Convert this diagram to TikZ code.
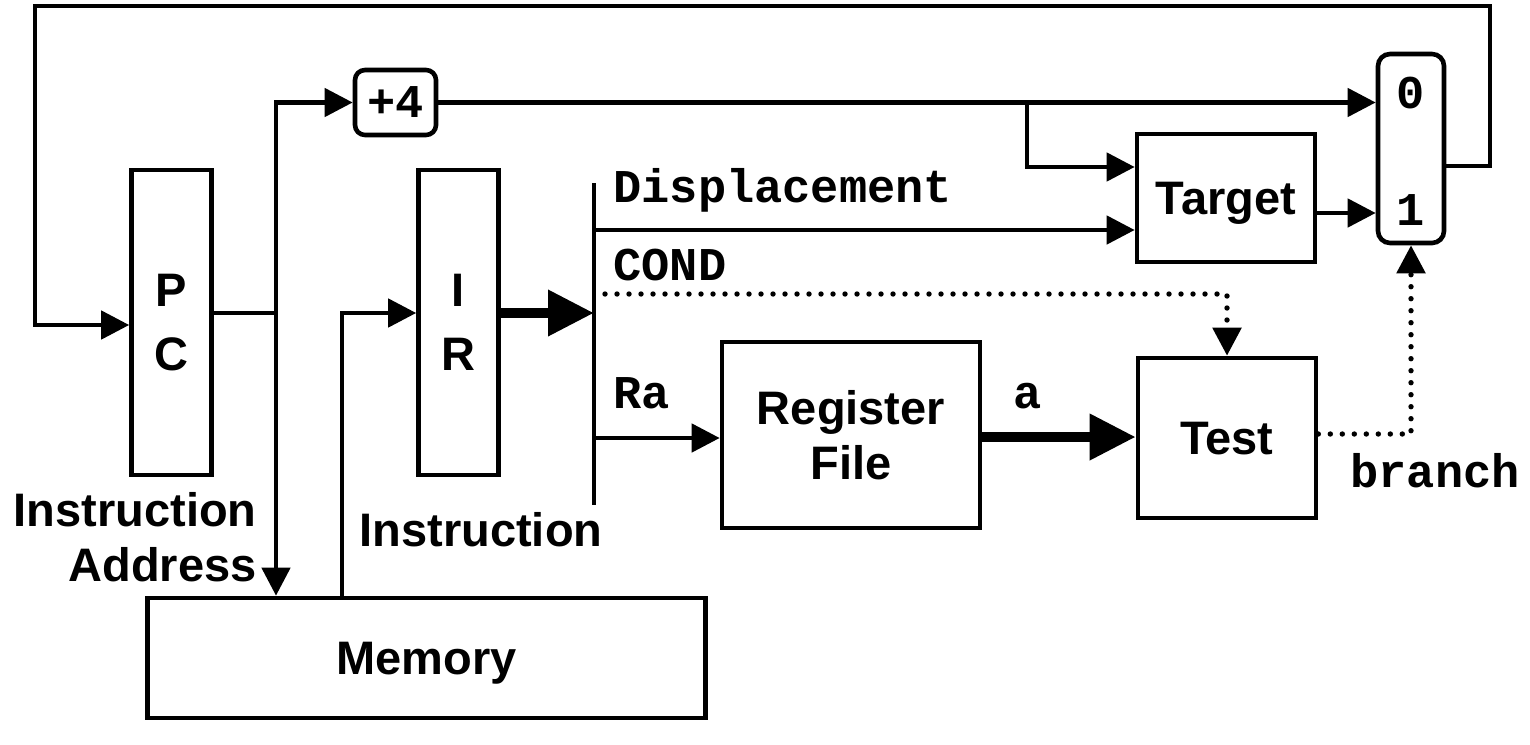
\documentclass[tikz,border=0pt]{standalone}
\usepackage{fontspec}
\setmainfont{Liberation Sans}
\setmonofont{Liberation Mono}
\usetikzlibrary{arrows.meta}

\begin{document}
\begin{tikzpicture}[x=0.5pt,y=-0.5pt,>={Triangle[length=14pt,width=14pt]},
  wire/.style={line width=2.3pt},
  bus/.style={line width=5pt,-{Triangle[length=23pt,width=22pt]}},
  dots/.style={line width=2.7pt,line cap=round,dash pattern=on 0pt off 6pt},
  box/.style={draw,line width=2.3pt,inner sep=0pt,align=center,text depth=0pt,font=\fontsize{23.5}{27.5}\selectfont\bfseries},
  lbl/.style={inner sep=0pt,font=\fontsize{23.5}{27.5}\selectfont\bfseries},
  code/.style={inner sep=0pt,font=\fontsize{23.5}{27.5}\selectfont\ttfamily\bfseries}]
\useasboundingbox (0,0) rectangle (1530,744);

\node[box,minimum width=40pt,minimum height=152.5pt] (pc) at (171.5,322.5) {P\\[4.5pt]C};
\node[box,minimum width=40pt,minimum height=152.5pt] (ir) at (458.5,322.5) {I\\[4.5pt]R};
\node[box,minimum width=279pt,minimum height=60pt] (mem) at (426.5,658) {Memory};
\node[box,code,rounded corners=5pt,minimum width=40.5pt,minimum height=32.5pt] (plusfour) at (395.5,102.5) {+4};
\node[box,minimum width=129pt,minimum height=93pt] (regfile) at (851,435) {Register\\File};
\node[box,minimum width=89pt,minimum height=64pt] (target) at (1226,198) {Target};
\node[box,minimum width=89pt,minimum height=80pt] (test) at (1227,438) {Test};
\node[box,rounded corners=6pt,minimum width=33pt,minimum height=94.5pt] (mux) at (1411,148.5) {};
\node[code] (zero) at (1411,93) {0};
\node[code] (one) at (1411,210) {1};

\node[lbl,align=right,anchor=east] (iaddr) at (257,537) {Instruction\\Address};
\node[lbl,anchor=base] (instr) at (481,546) {Instruction};
\node[code,anchor=base west] (disp) at (613,202) {Displacement};
\node[code,anchor=base west] (condlbl) at (613,280) {COND};
\node[code,anchor=base west] (ra) at (613,408) {Ra};
\node[code,anchor=base] (alab) at (1028,408) {a};
\node[code,anchor=base west] (branch) at (1350,487) {branch};

\coordinate (ia) at (276,313);
\coordinate (io) at (342,313);
\coordinate (bt) at (594,183);
\coordinate (bb) at (594,505);
\coordinate (cond) at (605,294);
\coordinate (fork) at (1027,102.5);
\coordinate (loop) at (1490,6);
\coordinate (back) at (35,325);

% PC loop
\draw[wire,->] (mux.east|-0,166) -| (loop) -| (back) -- (pc.west|-back);
\draw[wire,->] (pc.east|-ia) -- (ia) -- (ia|-mem.north);
\draw[wire,->] (ia) |- (plusfour.west);
\draw[wire,->] (io|-mem.north) -- (io) -- (ir.west|-io);
\draw[bus] (ir.east|-io) -- (bt|-io);
\draw[wire] (bt) -- (bb);

% fields
\draw[wire,->] (bt|-0,230) -- (target.west|-0,230);
\draw[dots,->] (cond) -| (test.north);
\draw[wire,->] (bt|-0,438) -- (regfile.west|-0,438);
\draw[bus] (regfile.east|-0,437) -- (test.west|-0,437);
\draw[dots,->] (test.east|-0,434) -| (mux.south);

\draw[wire,->] (plusfour.east) -- (mux.west|-plusfour.east);
\draw[wire,->] (fork) |- (target.west|-0,167);
\draw[wire,->] (target.east|-0,213) -- (mux.west|-0,213);
\end{tikzpicture}
\end{document}
